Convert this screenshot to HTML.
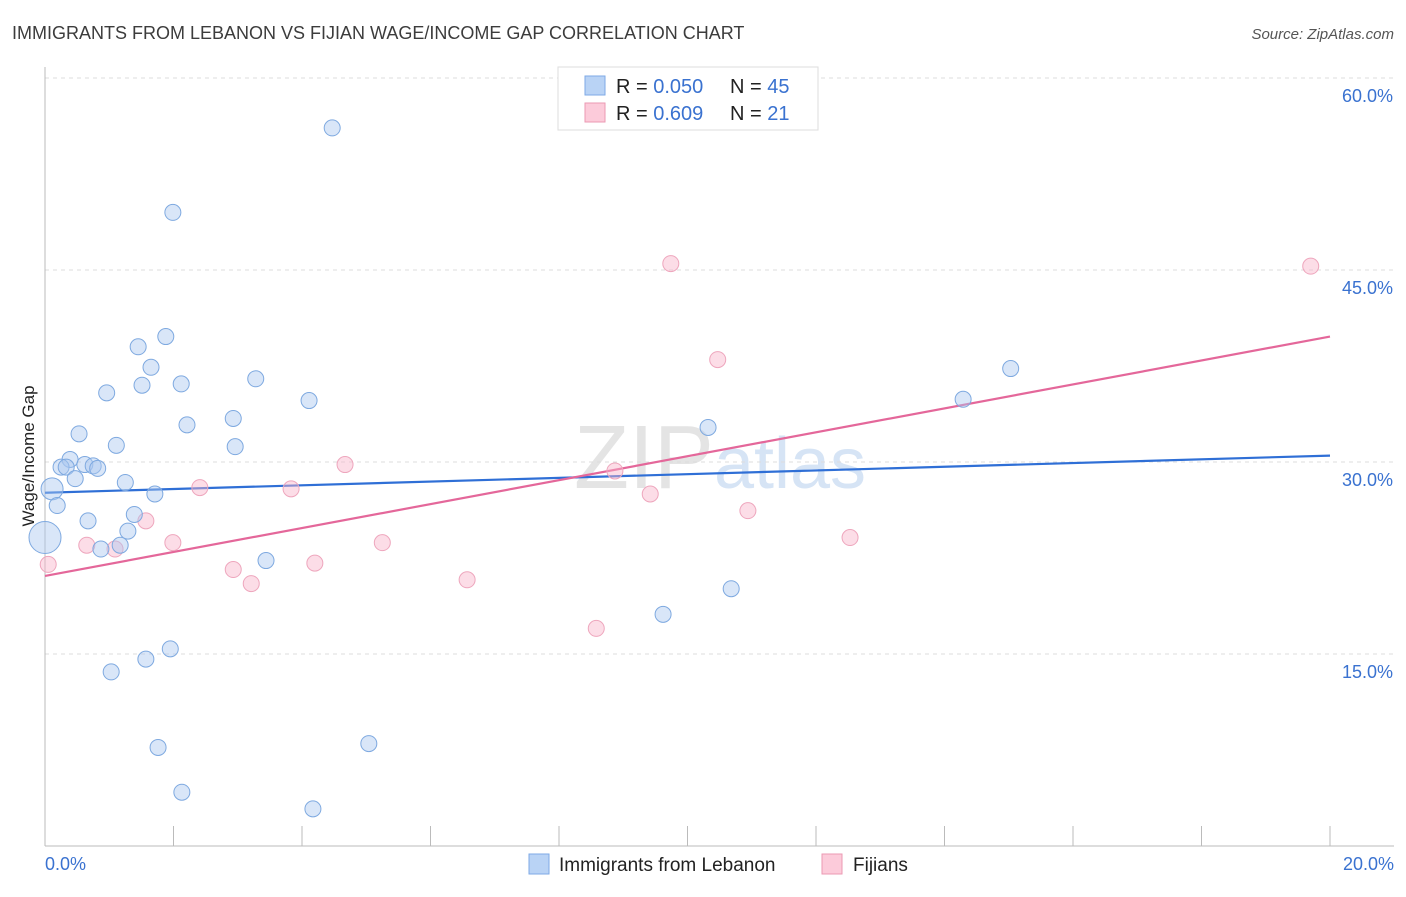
<!DOCTYPE html>
<html><head><meta charset="utf-8"><style>
body{margin:0;background:#fff;font-family:"Liberation Sans",sans-serif;}
svg text{font-family:"Liberation Sans",sans-serif;}
</style></head><body>
<svg id="chart" width="1406" height="892" xmlns="http://www.w3.org/2000/svg">
<text x="12" y="39" font-size="18" fill="#3c3c3c">IMMIGRANTS FROM LEBANON VS FIJIAN WAGE/INCOME GAP CORRELATION CHART</text>
<text x="1394" y="39" font-size="15" fill="#555" text-anchor="end" font-style="italic">Source: ZipAtlas.com</text>
<text x="720" y="488" font-size="90" fill="#e4e4e4" text-anchor="middle" font-family="Liberation Serif"><tspan>ZIP</tspan><tspan font-family="Liberation Sans" fill="#d6e4f5" font-size="72">atlas</tspan></text>
<g id="grid"></g><g id="axes"></g>
<text transform="translate(34,456) rotate(-90)" font-size="17" fill="#222" text-anchor="middle">Wage/Income Gap</text>
<g id="lines"></g><g id="pts"></g>
<g>
<rect x="558" y="67" width="260" height="63" fill="#fff" stroke="#ddd"/>
<rect x="585" y="76" width="20" height="19" fill="#b9d3f5" stroke="#7eaae6"/>
<rect x="585" y="103" width="20" height="19" fill="#fccbda" stroke="#eb9ab3"/>
<text x="616" y="93" font-size="20" fill="#222">R = <tspan fill="#3a72d0">0.050</tspan></text>
<text x="730" y="93" font-size="20" fill="#222">N = <tspan fill="#3a72d0">45</tspan></text>
<text x="616" y="120" font-size="20" fill="#222">R = <tspan fill="#3a72d0"> 0.609</tspan></text>
<text x="730" y="120" font-size="20" fill="#222">N = <tspan fill="#3a72d0"> 21</tspan></text>
</g>
<g>
<rect x="529" y="854" width="20" height="20" fill="#b9d3f5" stroke="#7eaae6"/>
<text x="559" y="871" font-size="19" fill="#222">Immigrants from Lebanon</text>
<rect x="822" y="854" width="20" height="20" fill="#fccbda" stroke="#eb9ab3"/>
<text x="853" y="871" font-size="19" fill="#222">Fijians</text>
</g>
</svg>
<script>
const blueX=[4.47,1.99,1.88,1.45,1.65,0.96,1.51,2.12,3.28,4.11,2.21,2.93,0.53,1.11,2.96,0.39,0.25,0.33,0.62,0.75,0.82,0.47,0.11,1.25,1.71,0.19,0.67,1.39,1.29,1.17,0.87,0.0,3.44,9.62,10.68,10.32,14.29,15.03,1.03,1.57,1.95,1.76,2.13,4.17,5.04];
const blueY=[56.1,49.5,39.8,39.0,37.4,35.4,36.0,36.1,36.5,34.8,32.9,33.4,32.2,31.3,31.2,30.2,29.6,29.6,29.8,29.7,29.5,28.7,27.9,28.4,27.5,26.6,25.4,25.9,24.6,23.5,23.2,24.1,22.3,18.1,20.1,32.7,34.9,37.3,13.6,14.6,15.4,7.7,4.2,2.9,8.0];
const pinkX=[0.05,0.65,1.09,1.57,1.99,2.41,2.93,3.21,3.83,4.20,4.67,5.25,6.57,8.58,8.87,9.42,9.74,10.47,10.94,12.53,19.70];
const pinkY=[22.0,23.5,23.2,25.4,23.7,28.0,21.6,20.5,27.9,22.1,29.8,23.7,20.8,17.0,29.3,27.5,45.5,38.0,26.2,24.1,45.3];
const blueTrend=[27.6,30.5];
const pinkTrend=[21.1,39.8];
const yTicks=[15,30,45,60];
const yTickLabels=["15.0%","30.0%","45.0%","60.0%"];
const xTicks=[0,2,4,6,8,10,12,14,16,18,20];
const xMin=0,xMax=20;
const NS="http://www.w3.org/2000/svg";
const X=v=>45+(v-xMin)/(xMax-xMin)*1285;
const Y=v=>846-v*12.8;
function mk(t,a,p){const e=document.createElementNS(NS,t);for(const k in a)e.setAttribute(k,a[k]);p.appendChild(e);return e;}
const grid=document.getElementById('grid'),axes=document.getElementById('axes');
yTicks.forEach((t,i)=>{
 const l=mk('line',{x1:45,x2:1394,y1:Y(t),y2:Y(t),stroke:'#ddd','stroke-dasharray':'4,4'},grid);
 
 
 const tx=mk('text',{x:1393,y:Y(t)+24,'font-size':18,fill:'#3a72d0','text-anchor':'end'},axes);
 tx.textContent=yTickLabels[i];
 
 
});
const xa=mk('line',{x1:45,x2:1394,y1:846,y2:846,stroke:'#bbb'},axes);


const ya=mk('line',{x1:45,x2:45,y1:67,y2:846,stroke:'#bbb'},axes);


xTicks.forEach(t=>{const l=mk('line',{x1:X(t),x2:X(t),y1:826,y2:846,stroke:'#bbb'},axes);
 
 });
const x0=mk('text',{x:45,y:870,'font-size':18,fill:'#3a72d0'},axes);x0.textContent=xMin.toFixed(1)+'%';


const x1=mk('text',{x:1394,y:870,'font-size':18,fill:'#3a72d0','text-anchor':'end'},axes);x1.textContent=xMax.toFixed(1)+'%';


const pts=document.getElementById('pts'),lines=document.getElementById('lines');
pinkX.forEach((x,i)=>{const c=mk('circle',{cx:X(x),cy:Y(pinkY[i]),r:8,fill:'rgba(248,180,202,0.45)',stroke:'#eea6bd','stroke-width':1},pts);
 
 });
blueX.forEach((x,i)=>{const r=(x===0)?16:(i===22?11:8);
 const c=mk('circle',{cx:X(x),cy:Y(blueY[i]),r:r,fill:'rgba(170,200,240,0.45)',stroke:'#7ea9e0','stroke-width':1},pts);
 
 });
const bl=mk('line',{x1:X(xMin),x2:X(xMax),y1:Y(blueTrend[0]),y2:Y(blueTrend[1]),stroke:'#2f6fd6','stroke-width':2.2},lines);


const pl=mk('line',{x1:X(xMin),x2:X(xMax),y1:Y(pinkTrend[0]),y2:Y(pinkTrend[1]),stroke:'#e4679a','stroke-width':2.2},lines);


</script>
</body></html>
